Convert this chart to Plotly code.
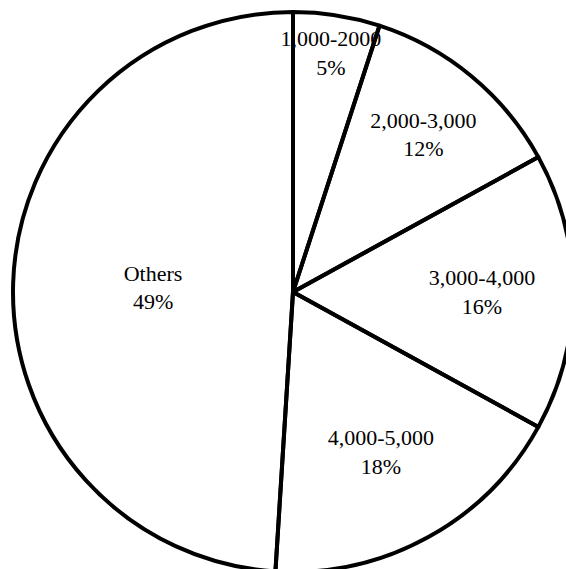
import plotly.graph_objects as go

labels = ["1,000-2000", "2,000-3,000", "3,000-4,000", "4,000-5,000", "Others"]
values = [5, 12, 16, 18, 49]

fig = go.Figure(go.Pie(
    labels=labels,
    values=values,
    sort=False,
    direction="clockwise",
    rotation=0,
    texttemplate="%{label}<br>%{percent:.0%}",
    textposition="inside",
    insidetextorientation="horizontal",
    marker=dict(colors=["rgba(255,255,255,0)"] * 5, line=dict(color="black", width=4)),
    textfont=dict(family="Liberation Serif, Times New Roman, serif", size=22, color="black"),
    showlegend=False,
    hoverinfo="skip",
))

fig.update_layout(
    width=573, height=572,
    margin=dict(l=13, t=12, r=0, b=0),
    paper_bgcolor="white", plot_bgcolor="white",
    uniformtext=dict(minsize=22, mode="show"),
)

fig.write_html("out.html", post_script="document.body.style.overflow='hidden';document.body.style.margin='0';")
